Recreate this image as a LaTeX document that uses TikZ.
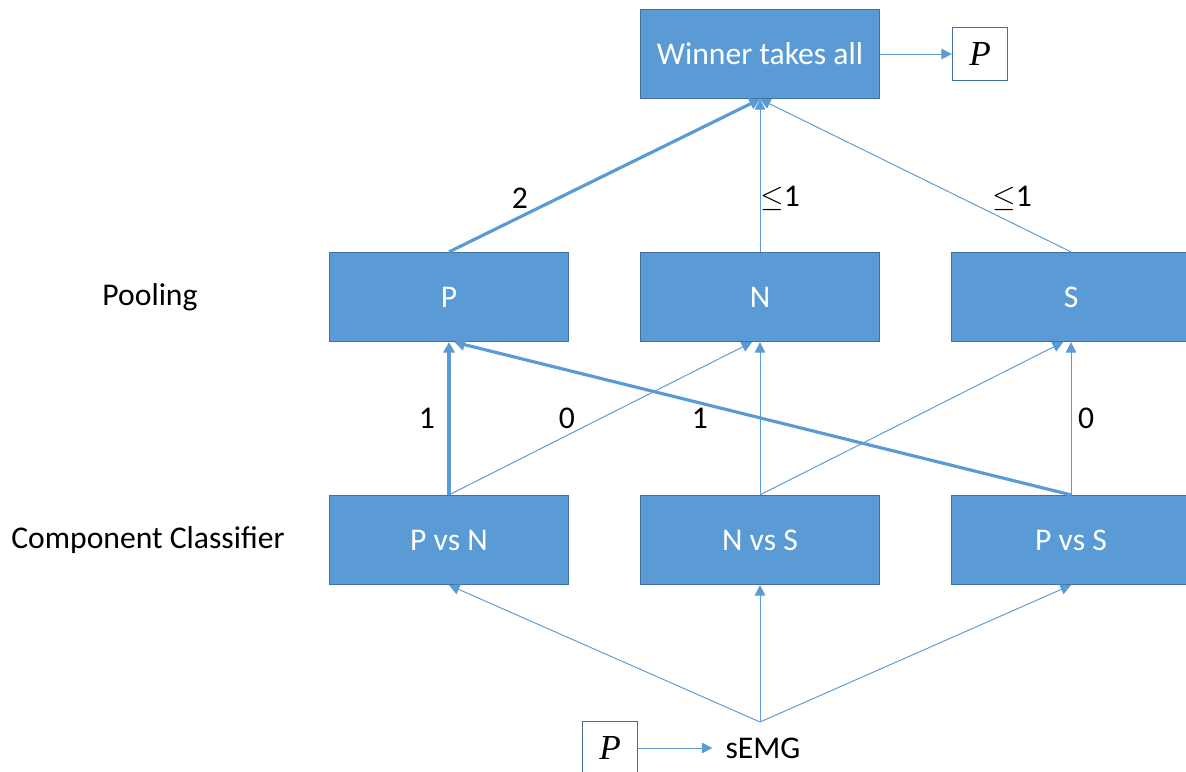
\documentclass[tikz,border=0pt]{standalone}
\usepackage{fontspec}
\setmainfont{Carlito}
\newfontfamily\varfont{Liberation Serif}
\usetikzlibrary{arrows.meta}

\definecolor{blkfill}{HTML}{5B9BD5}
\definecolor{blkline}{HTML}{41719C}

\tikzset{
  blk/.style={draw=blkline, fill=blkfill, text=white, line width=0.7pt,
    minimum width=4.78cm, minimum height=1.78cm},
  pbox/.style={draw=blkline, fill=white, line width=0.7pt,
    minimum width=1.1cm, minimum height=1.05cm,
    font=\varfont\fontsize{20}{22}\selectfont\itshape},
  wire/.style={draw=blkfill, line width=0.55pt,
    -{Triangle[length=6pt, width=6pt]}},
  boldwire/.style={draw=blkfill, line width=1.8pt,
    -{Triangle[length=6pt, width=6.5pt]}},
  wlabel/.style={text=black}
}

\begin{document}
\begin{tikzpicture}[x=0.02cm, y=-0.02cm, font=\fontsize{18}{21}\selectfont]
\useasboundingbox (0,0) rectangle (1186,771);

% -- top: decision --------------------------------------------
\node[blk]  (winner) at (760,54) {Winner takes all};
\node[pbox] (pout)   at (980,54) {P};
\draw[wire] (winner.east) -- (pout.west);

% -- pooling layer --------------------------------------------
\node at (150,297) (lpool) {Pooling};
\node[blk] (poolP) at (449,297)  {P};
\node[blk] (poolN) at (760,297)  {N};
\node[blk] (poolS) at (1071,297) {S};

\draw[boldwire] (poolP.north) -- (winner.south);
\draw[wire]     (poolN.north) -- (winner.south);
\draw[wire]     (poolS.north) -- (winner.south);
\node[wlabel] (vP) at (520,198)  {2};
\node[wlabel] (vN) at (780,198)  {$\le$1};
\node[wlabel] (vS) at (1012,198) {$\le$1};

% -- component classifiers ------------------------------------
\node at (148,540) (lcomp) {Component Classifier};
\node[blk] (ccPN) at (449,540)  {P vs N};
\node[blk] (ccNS) at (760,540)  {N vs S};
\node[blk] (ccPS) at (1071,540) {P vs S};

\draw[boldwire] (ccPN.north) -- (poolP.south);
\draw[wire]     (ccPN.north) -- ([xshift=-4.5pt]poolN.south);
\draw[wire]     (ccNS.north) -- (poolN.south);
\draw[wire]     (ccNS.north) -- ([xshift=-4.5pt]poolS.south);
\draw[boldwire] (ccPS.north) -- ([xshift=3pt]poolP.south);
\draw[wire]     (ccPS.north) -- (poolS.south);
\node[wlabel] (vPN1) at (427,418)  {1};
\node[wlabel] (vPN0) at (567,418)  {0};
\node[wlabel] (vPS1) at (700,418)  {1};
\node[wlabel] (vPS0) at (1086,418) {0};

% -- input ----------------------------------------------------
\node[pbox] (pin)  at (610,748) {P};
\node       (semg) at (763,748) {sEMG};
\draw[wire] (pin.east) -- ([xshift=-4pt]semg.west);

\coordinate (fan) at (760,722);
\draw[wire] (fan) -- (ccPN.south);
\draw[wire] (fan) -- (ccNS.south);
\draw[wire] (fan) -- (ccPS.south);

\end{tikzpicture}
\end{document}
